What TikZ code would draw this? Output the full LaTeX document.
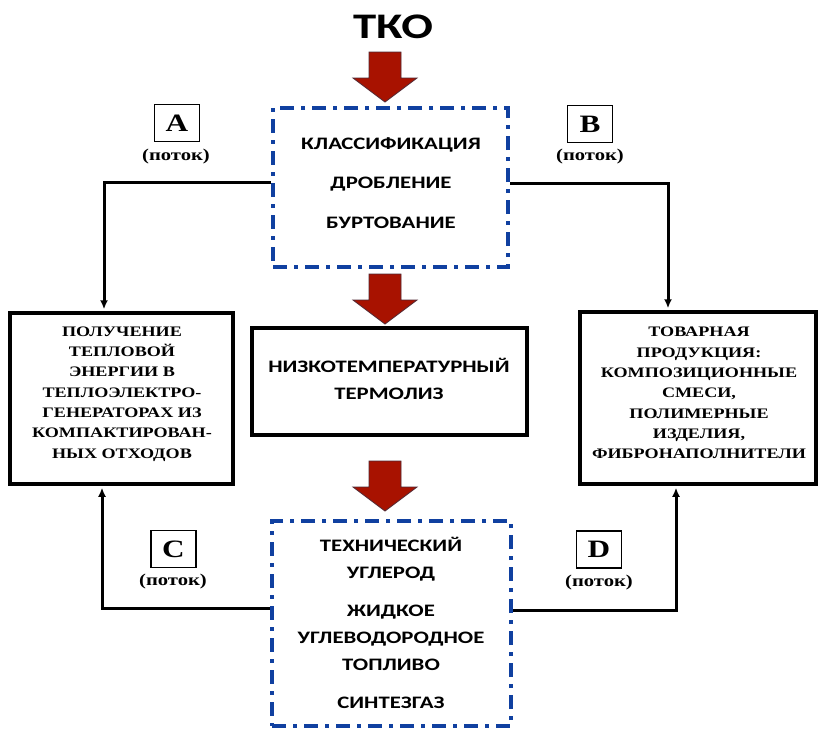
\documentclass[tikz,border=0pt]{standalone}
\usepackage{fontspec}
\setmainfont{Liberation Serif}[FakeStretch=1.25]
\newfontfamily\calfont{Carlito}[FakeStretch=1.3]
\usetikzlibrary{arrows.meta}
\definecolor{dashblue}{RGB}{16,64,160}
\definecolor{arrred}{RGB}{168,18,0}
\definecolor{arredge}{RGB}{80,40,50}
\tikzset{
  bigarr/.pic={\filldraw[fill=arrred, draw=arredge, line width=0.8pt] (-16,0) -- (16,0) -- (16,26) -- (32,26) -- (0,50) -- (-32,26) -- (-16,26) -- cycle;}
}
\begin{document}
\begin{tikzpicture}[x=1pt,y=-1pt,
  dashbox/.style={draw=dashblue, line width=4pt, dash pattern=on 14pt off 7pt on 4pt off 7pt, inner sep=0pt},
  solidbox/.style={draw=black, line width=4.5pt, inner sep=0pt},
  labelbox/.style={draw=black, line width=1.8pt, minimum width=45pt, minimum height=37pt, inner sep=0pt, font=\fontsize{25}{25}\selectfont\bfseries},
  flowtext/.style={font=\fontsize{16.5}{16.5}\selectfont\bfseries, inner sep=0pt},
  sanstext/.style={font=\calfont\bfseries\fontsize{17.5}{39.5}\selectfont, align=center, inner sep=0pt},
  midtext/.style={font=\calfont\bfseries\fontsize{17.5}{27}\selectfont, align=center, inner sep=0pt},
  serftext/.style={font=\bfseries\fontsize{14.5}{20.3}\selectfont, align=center, inner sep=0pt},
  conn/.style={line width=3pt, -{Latex[length=9pt,width=8pt]}, shorten >=1.5pt}
]
\useasboundingbox (0,0) rectangle (819,729);

% title
\node[font=\calfont\bfseries\fontsize{36}{36}\selectfont, inner sep=0pt] (tko) at (393,27) {ТКО};

% big red arrows
\pic at (385,52) {bigarr};
\pic at (385,274) {bigarr};
\pic at (385,461) {bigarr};

% top dashed box
\node[dashbox, minimum width=235pt, minimum height=159pt] (top) at (390.5,187.5) {};
\node[sanstext] (toptxt) at (391,183) {КЛАССИФИКАЦИЯ\\ДРОБЛЕНИЕ\\БУРТОВАНИЕ};

% middle box
\node[solidbox, minimum width=275pt, minimum height=107pt] (mid) at (389.5,381.5) {};
\node[midtext] (midtxt) at (389,378.5) {НИЗКОТЕМПЕРАТУРНЫЙ\\ТЕРМОЛИЗ};

% left box
\node[solidbox, minimum width=223pt, minimum height=171pt] (left) at (121.5,398.5) {};
\node[serftext] (lefttxt) at (122,394) {ПОЛУЧЕНИЕ\\ТЕПЛОВОЙ\\ЭНЕРГИИ В\\ТЕПЛОЭЛЕКТРО-\\ГЕНЕРАТОРАХ ИЗ\\КОМПАКТИРОВАН-\\НЫХ ОТХОДОВ};

% right box
\node[solidbox, minimum width=236pt, minimum height=172pt] (right) at (698,398) {};
\node[serftext] (righttxt) at (699,393) {ТОВАРНАЯ\\ПРОДУКЦИЯ:\\КОМПОЗИЦИОННЫЕ\\СМЕСИ,\\ПОЛИМЕРНЫЕ\\ИЗДЕЛИЯ,\\ФИБРОНАПОЛНИТЕЛИ};

% bottom dashed box
\node[dashbox, minimum width=239pt, minimum height=205pt] (bot) at (391.5,623.5) {};
\node[midtext] (bottxt) at (391,623) {ТЕХНИЧЕСКИЙ\\УГЛЕРОД\\[10.5pt]ЖИДКОЕ\\УГЛЕВОДОРОДНОЕ\\ТОПЛИВО\\[11pt]СИНТЕЗГАЗ};

% flow labels
\node[labelbox] (la) at (177,123) {A};
\node[flowtext] (pa) at (176,157) {(поток)};
\node[labelbox] (lb) at (590,124) {B};
\node[flowtext] (pb) at (590,157) {(поток)};
\node[labelbox] (lc) at (173.5,549) {C};
\node[flowtext] (pc) at (173,582) {(поток)};
\node[labelbox] (ld) at (599,549.5) {D};
\node[flowtext] (pd) at (599,583) {(поток)};

% connectors
\coordinate (ya) at (0,182);
\coordinate (xa) at (104,0);
\coordinate (yb) at (0,183);
\coordinate (xb) at (668,0);
\coordinate (yc) at (0,608);
\coordinate (xc) at (102,0);
\coordinate (yd) at (0,610);
\coordinate (xd) at (676,0);
\draw[conn] (top.west |- ya) -| (left.north -| xa);
\draw[conn] (top.east |- yb) -| (right.north -| xb);
\draw[conn] (bot.west |- yc) -| (left.south -| xc);
\draw[conn] (bot.east |- yd) -| (right.south -| xd);
\end{tikzpicture}
\end{document}
